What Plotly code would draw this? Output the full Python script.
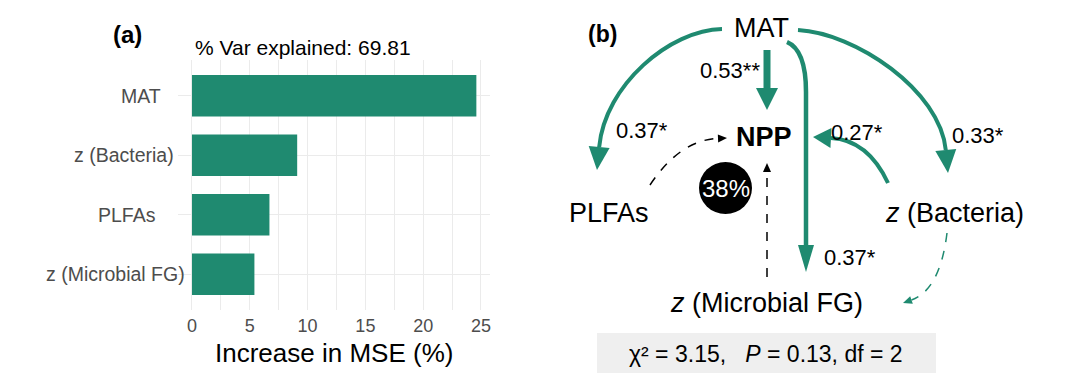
import math
import plotly.graph_objects as go

# ---------------- data ----------------
features = ["MAT", "z (Bacteria)", "PLFAs", "z (Microbial FG)"]
inc_mse = [24.6, 9.1, 6.7, 5.4]
var_explained = 69.81
x_ticks = [0, 5, 10, 15, 20, 25]

# SEM path coefficients
coef_mat_npp = "0.53**"
coef_mat_plfa = "0.37*"
coef_mat_bact = "0.33*"
coef_mat_mfg = "0.37*"
coef_bact_npp = "0.27*"
npp_r2 = "38%"
chi2, p_val, dof = 3.15, 0.13, 2

# ---------------- style ----------------
W, H = 1080, 380
TEAL = "#1F8A70"
GRID = "#EBEBEB"
FONT = "Liberation Sans, Arial, sans-serif"
label_right_px = [163, 176, 158, 187]   # right edges of the y labels (layout)


def px(x):
    return x / W


def py(y):
    return 1 - y / H


fig = go.Figure()
fig.add_trace(go.Bar(
    y=features, x=inc_mse, orientation="h", width=0.7,
    marker=dict(color=TEAL, line=dict(width=0)),
    xaxis="x", yaxis="y", hoverinfo="skip", showlegend=False))
fig.add_trace(go.Scatter(
    x=[540, 1080], y=[0, 380], mode="markers", marker=dict(opacity=0),
    xaxis="x2", yaxis="y2", hoverinfo="skip", showlegend=False))

shapes = []
annotations = []


def unit(a, b):
    dx, dy = b[0] - a[0], b[1] - a[1]
    d = math.hypot(dx, dy)
    return dx / d, dy / d


def arrow(points, kind, color, width, dash, hl, hw, prefix=None):
    tip = points[-1]
    ux, uy = unit(points[-2], tip)
    base = (tip[0] - hl * ux, tip[1] - hl * uy)
    nx, ny = -uy, ux
    pts = list(points[:-1]) + [base]
    if kind == "line":
        path = f"M {pts[0][0]},{pts[0][1]} L {pts[1][0]},{pts[1][1]}"
    elif kind == "quad":
        path = (f"M {pts[0][0]},{pts[0][1]} Q {pts[1][0]},{pts[1][1]} "
                f"{pts[2][0]},{pts[2][1]}")
    elif kind == "cubic":
        path = (f"M {pts[0][0]},{pts[0][1]} C {pts[1][0]},{pts[1][1]} "
                f"{pts[2][0]},{pts[2][1]} {pts[3][0]},{pts[3][1]}")
    else:
        path = prefix + f" L {base[0]},{base[1]}"
    shapes.append(dict(type="path", path=path, xref="x2", yref="y2",
                       line=dict(color=color, width=width, dash=dash)))
    b1 = (base[0] + hw * nx, base[1] + hw * ny)
    b2 = (base[0] - hw * nx, base[1] - hw * ny)
    tri = f"M {tip[0]},{tip[1]} L {b1[0]},{b1[1]} L {b2[0]},{b2[1]} Z"
    shapes.append(dict(type="path", path=tri, xref="x2", yref="y2",
                       fillcolor=color, line=dict(width=0)))


# MAT -> PLFAs
arrow([(722, 29), (670, 30), (605, 85), (597, 170)], "cubic", TEAL, 4, "solid", 23, 10.5)
# MAT -> z(Bacteria)
arrow([(798, 30), (855, 33), (940, 90), (948, 173)], "cubic", TEAL, 4, "solid", 23, 10.5)
# MAT -> NPP
arrow([(767, 50), (767, 110)], "line", TEAL, 7, "solid", 22, 11)
# MAT -> z(Microbial FG)
arrow([(806, 90), (806, 272)], "custom", TEAL, 4.5, "solid", 27, 8,
      prefix="M 787,42 Q 806,50 806,92")
# z(Bacteria) -> NPP
arrow([(888, 183), (868, 140), (813, 137)], "quad", TEAL, 4, "solid", 18, 10)
# PLFAs -> NPP (ns)
arrow([(650, 185), (680, 140), (727, 138)], "quad", "black", 1.5, "dash", 9, 4)
# z(Microbial FG) -> NPP (ns)
arrow([(767, 277), (767, 163)], "line", "black", 1.5, "dash", 9, 4)
# z(Bacteria) -> z(Microbial FG) (ns)
arrow([(947, 233), (940, 290), (903, 303)], "quad", TEAL, 1.5, "dash", 9, 4)

# R2 circle
shapes.append(dict(type="circle", xref="x2", yref="y2", x0=699, x1=752,
                   y0=162, y1=214, fillcolor="black", line=dict(width=0)))
# fit box
shapes.append(dict(type="rect", xref="x2", yref="y2", x0=597, x1=936,
                   y0=333, y1=373, fillcolor="#EFEFEF", line=dict(width=0),
                   layer="below"))


def txt2(x, y, text, size, color="black", bold=False, xanchor="center"):
    annotations.append(dict(
        x=x, y=y, xref="x2", yref="y2", text=f"<b>{text}</b>" if bold else text,
        showarrow=False, xanchor=xanchor, yanchor="middle",
        font=dict(size=size, color=color, family=FONT)))


txt2(761, 28, "MAT", 27)
txt2(764, 137, "NPP", 27, bold=True)
txt2(609, 213, "PLFAs", 27)
txt2(954, 213, "<i>z</i> (Bacteria)", 27)
txt2(766, 303, "<i>z</i> (Microbial FG)", 27)
txt2(602, 34, "(b)", 23, bold=True)
txt2(730, 70, coef_mat_npp, 22)
txt2(642, 130, coef_mat_plfa, 22)
txt2(857, 132, coef_bact_npp, 22)
txt2(978, 135, coef_mat_bact, 22)
txt2(850, 257, coef_mat_mfg, 22)
txt2(725.5, 188, npp_r2, 24, color="white")
txt2(766, 354,
     f"χ² = {chi2:.2f},&nbsp;&nbsp;&nbsp;<i>P</i> = {p_val:.2f}, df = {dof}", 23)

# panel (a) y labels
for name, xr in zip(features, label_right_px):
    annotations.append(dict(x=px(xr), y=name, xref="paper", yref="y",
                            text=name, showarrow=False, xanchor="right",
                            yanchor="middle",
                            font=dict(size=19.5, color="#4D4D4D", family=FONT)))

# panel (a) texts
annotations.append(dict(x=px(127), y=py(35), xref="paper", yref="paper",
                        text="<b>(a)</b>", showarrow=False, xanchor="center",
                        yanchor="middle", font=dict(size=24, color="black", family=FONT)))
annotations.append(dict(x=px(193), y=py(48), xref="paper", yref="paper",
                        text=f"% Var explained: {var_explained:.2f}", showarrow=False,
                        xanchor="left", yanchor="middle",
                        font=dict(size=21, color="black", family=FONT)))
annotations.append(dict(x=px(334), y=py(353), xref="paper", yref="paper",
                        text="Increase in MSE (%)", showarrow=False, xanchor="center",
                        yanchor="middle", font=dict(size=26, color="black", family=FONT)))

fig.update_layout(
    width=W, height=H, margin=dict(l=0, r=0, t=0, b=0),
    paper_bgcolor="white", plot_bgcolor="white", showlegend=False,
    font=dict(family=FONT),
    xaxis=dict(domain=[px(178), px(490)], range=[-1.21, 25.78], anchor="y",
               tickvals=x_ticks, showgrid=True, gridcolor=GRID, gridwidth=1.2,
               minor=dict(dtick=2.5, tick0=0, showgrid=True, gridcolor=GRID, gridwidth=1.2),
               zeroline=False, showline=False, ticks="", ticklabelstandoff=3,
               tickfont=dict(size=18, color="#4D4D4D", family=FONT), fixedrange=True),
    yaxis=dict(domain=[py(310), py(60)], type="category", categoryorder="array",
               categoryarray=features, range=[3.6, -0.6], anchor="x",
               showgrid=True, gridcolor=GRID, gridwidth=1.2, zeroline=False,
               showline=False, ticks="", showticklabels=False, fixedrange=True),
    xaxis2=dict(domain=[0.5, 1], range=[540, 1080], anchor="y2", visible=False,
                fixedrange=True),
    yaxis2=dict(domain=[0, 1], range=[380, 0], anchor="x2", visible=False,
                fixedrange=True),
    shapes=shapes, annotations=annotations,
)

fig.write_html("out.html", config={"displayModeBar": False},
               post_script="document.body.style.margin='0';")
